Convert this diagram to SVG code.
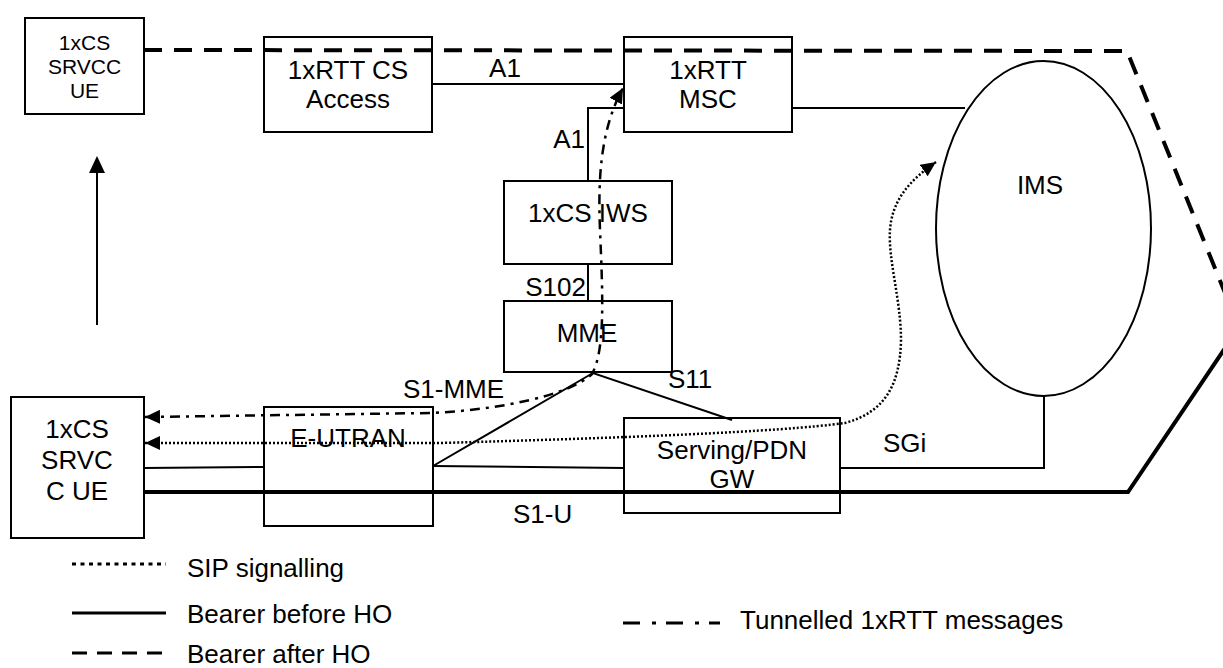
<svg xmlns="http://www.w3.org/2000/svg" width="1223" height="668" viewBox="0 0 1223 668">
<style>
.box{fill:#fff;stroke:#000;stroke-width:2}
.t{font-family:"Liberation Sans",Arial,sans-serif;font-size:26px;fill:#000}
.ts{font-family:"Liberation Sans",Arial,sans-serif;font-size:21px;fill:#000}
.c{text-anchor:middle}
.thin{fill:none;stroke:#000;stroke-width:2}
.before{fill:none;stroke:#000;stroke-width:4}
.after{fill:none;stroke:#000;stroke-width:4;stroke-dasharray:18 12}
.sip{fill:none;stroke:#000;stroke-width:2.5;stroke-dasharray:2 2}
.tun{fill:none;stroke:#000;stroke-width:2.5;stroke-dasharray:10 6 3 6}
</style>
<defs>
<marker id="ah" viewBox="0 0 15 14" refX="15" refY="7" markerWidth="15" markerHeight="14" markerUnits="userSpaceOnUse" orient="auto-start-reverse">
<path d="M0,0 L15,7 L0,14 z" fill="#000"/>
</marker>
</defs>
<rect width="1223" height="668" fill="#fff"/>
<g id="ue-top">
<rect class="box" x="25" y="18" width="119" height="96"/>
<text class="ts c" x="84.5" y="50">1xCS</text>
<text class="ts c" x="84.5" y="74">SRVCC</text>
<text class="ts c" x="84.5" y="98">UE</text>
</g>
<g id="cs-access">
<rect class="box" x="264" y="37" width="168" height="95"/>
<text class="t c" x="348" y="79">1xRTT CS</text>
<text class="t c" x="348" y="108">Access</text>
</g>
<g id="msc">
<rect class="box" x="624" y="37" width="168" height="95"/>
<text class="t c" x="708" y="79">1xRTT</text>
<text class="t c" x="708" y="108">MSC</text>
</g>
<g id="iws">
<rect class="box" x="504" y="181" width="168" height="83"/>
<text class="t c" x="588" y="222">1xCS IWS</text>
</g>
<g id="mme">
<rect class="box" x="504" y="301" width="168" height="71"/>
<text class="t c" x="587" y="342">MME</text>
</g>
<g id="ims">
<ellipse cx="1043.5" cy="228.5" rx="107.5" ry="167.5" fill="#fff" stroke="#000" stroke-width="2"/>
<text class="t c" x="1040" y="194">IMS</text>
</g>
<g id="ue-bottom">
<rect class="box" x="11" y="397" width="133" height="141"/>
<text class="t c" x="77" y="438">1xCS</text>
<text class="t c" x="77" y="469">SRVC</text>
<text class="t c" x="77" y="500">C UE</text>
</g>
<g id="eutran">
<rect class="box" x="264" y="407" width="169" height="119"/>
<text class="t c" x="348" y="447">E-UTRAN</text>
</g>
<g id="gw">
<rect class="box" x="624" y="418" width="216" height="95"/>
<text class="t c" x="732" y="459">Serving/PDN</text>
<text class="t c" x="732" y="488">GW</text>
</g>
<g id="connectors">
<path class="thin" d="M432 84 H624"/>
<text class="t c" x="505" y="77">A1</text>
<path class="thin" d="M624 108 H588 V181"/>
<text class="t" x="585" y="148" text-anchor="end">A1</text>
<path class="thin" d="M588 264 V301"/>
<text class="t" x="586" y="296" text-anchor="end">S102</text>
<path class="thin" d="M792 108 H965"/>
<path class="thin" d="M433 466 L593 373 L732 420"/>
<text class="t" x="403" y="398">S1-MME</text>
<text class="t" x="668" y="388">S11</text>
<path class="thin" d="M144 468 L264 467"/>
<path class="thin" d="M433 466 L624 468"/>
<path class="thin" d="M840 468 H1044 V396"/>
<text class="t" x="883" y="452">SGi</text>
<text class="t" x="513" y="523">S1-U</text>
<path class="before" d="M144 492 H1128 L1240 326"/>
<path class="after" d="M144 50 L1127 51 L1240 330"/>
<path class="tun" marker-start="url(#ah)" marker-end="url(#ah)" d="M145 417 L430 413 C500 410 570 395 592 374 C605 350 603 300 600 230 C598 180 600 130 623 88"/>
<path class="sip" marker-start="url(#ah)" marker-end="url(#ah)" d="M145 443 L440 443 C620 438 780 432 845 423 C885 412 900 385 901 340 C901 300 888 260 890 230 C892 200 910 180 936 162"/>
<path class="thin" d="M97 325 V172" stroke-width="2.5"/>
<path d="M89 173 L97 156 L105 173 z" fill="#000"/>
</g>
<g id="legend">
<path d="M72 564 H166" fill="none" stroke="#000" stroke-width="3" stroke-dasharray="4 4.5"/>
<text class="t" x="187" y="577">SIP signalling</text>
<path d="M72 613 H166" fill="none" stroke="#000" stroke-width="3"/>
<text class="t" x="187" y="623">Bearer before HO</text>
<path d="M72 653 H166" fill="none" stroke="#000" stroke-width="3" stroke-dasharray="15 10"/>
<text class="t" x="187" y="663">Bearer after HO</text>
<path d="M623 623 H720" fill="none" stroke="#000" stroke-width="3" stroke-dasharray="17 12 4 10"/>
<text class="t" x="740" y="629">Tunnelled 1xRTT messages</text>
</g>
</svg>
